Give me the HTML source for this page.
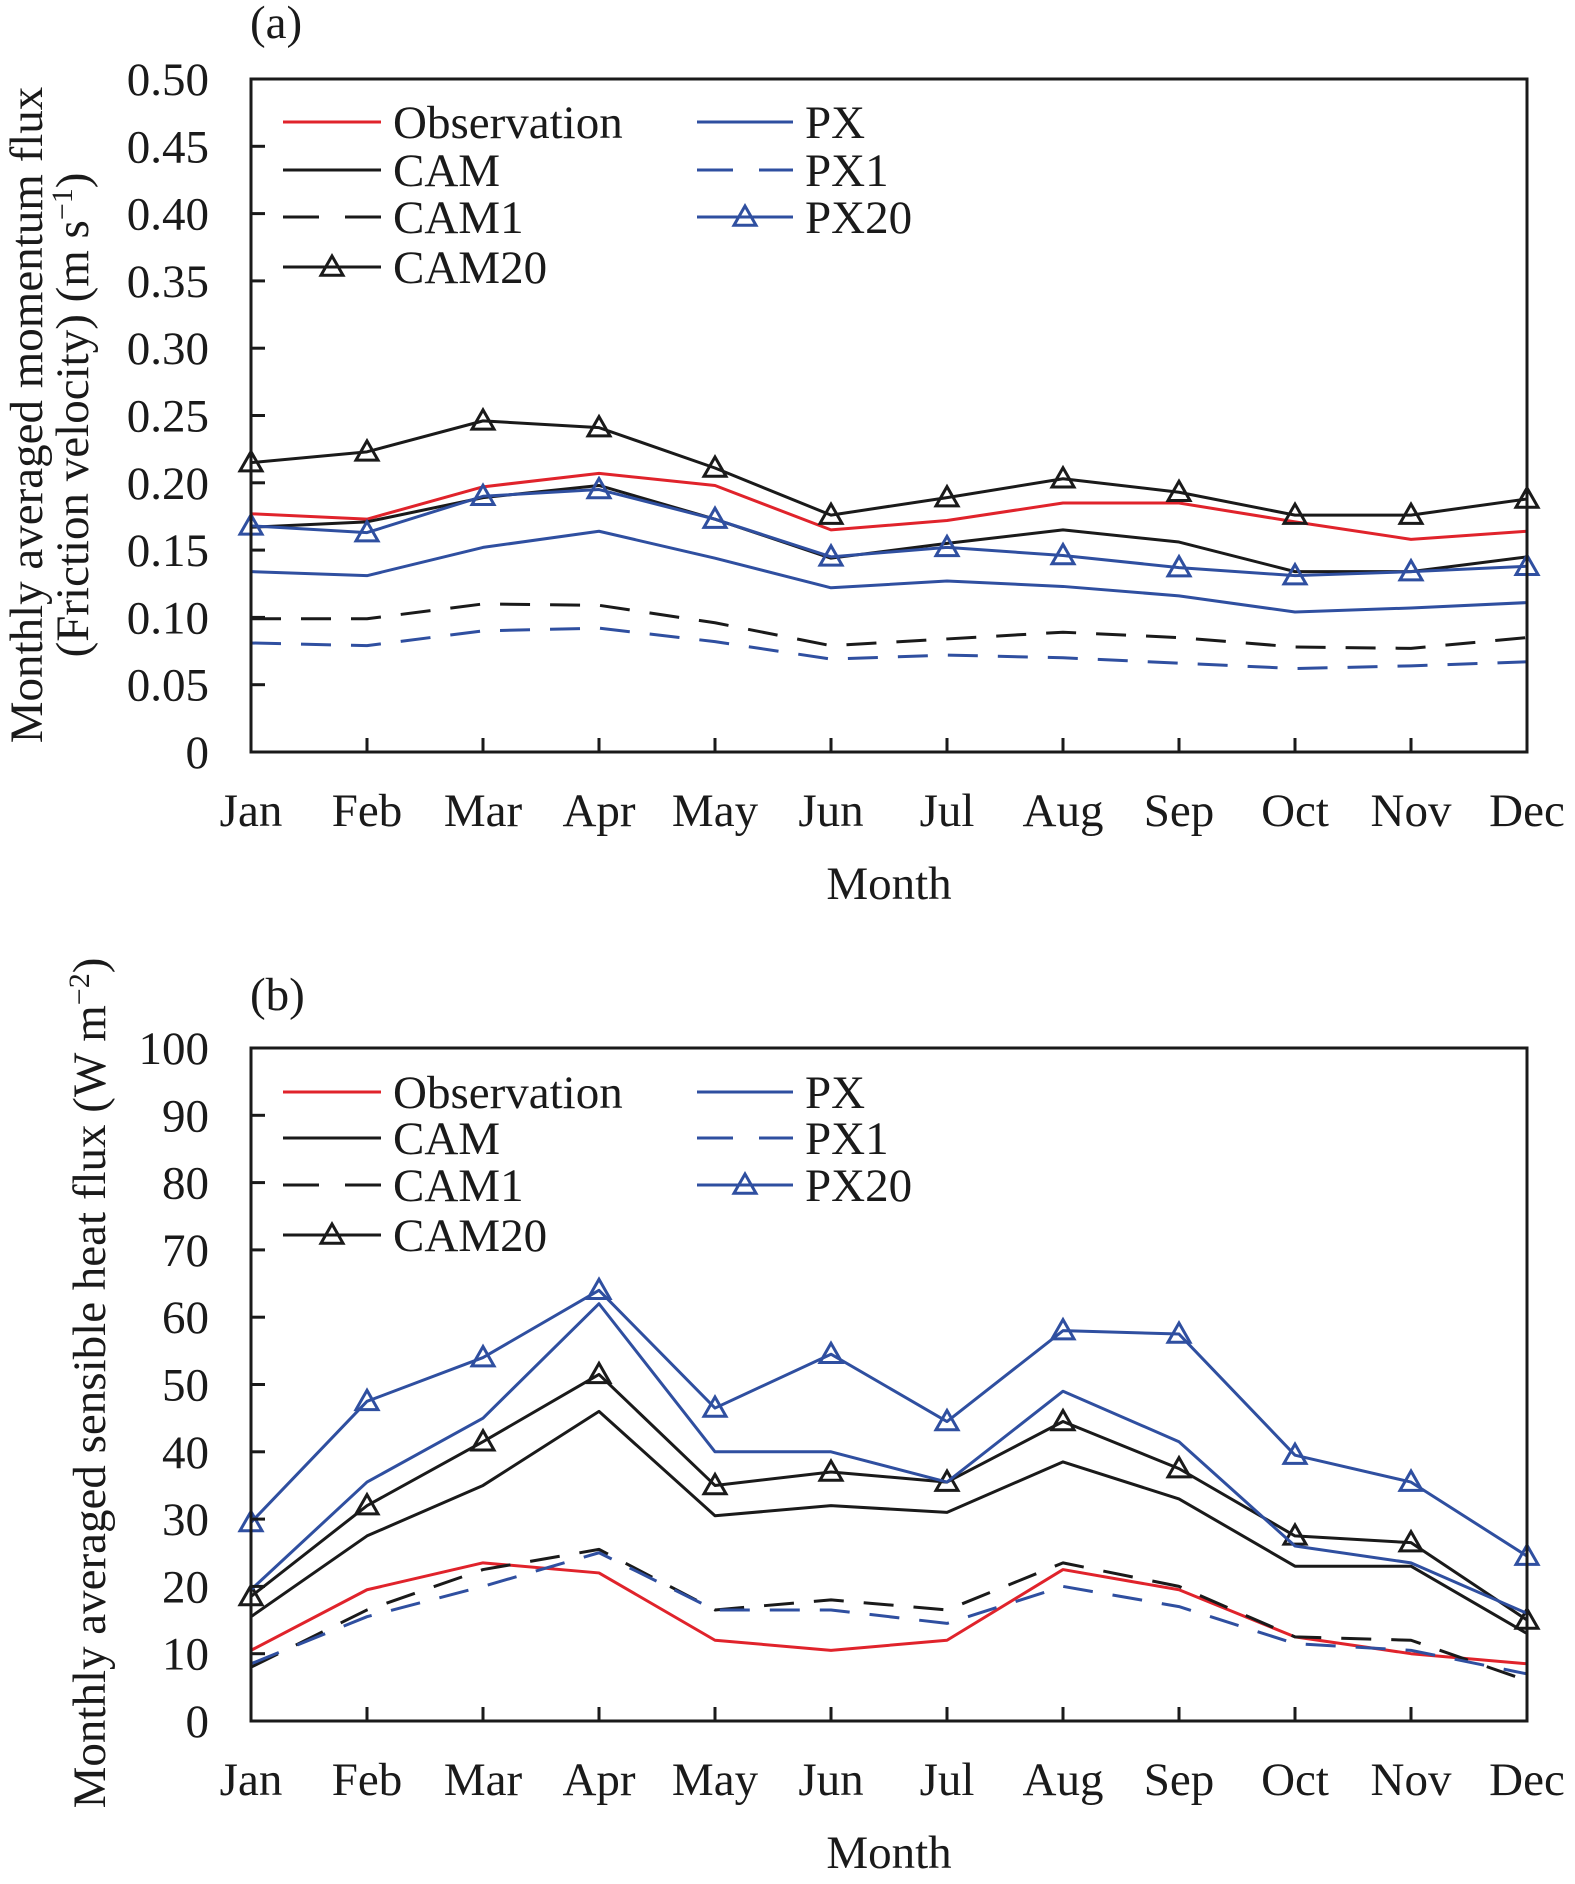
<!DOCTYPE html>
<html><head><meta charset="utf-8"><style>
html,body{margin:0;padding:0;background:#fff;}
svg{display:block;font-family:"Liberation Serif",serif;}
</style></head><body>
<svg id="fig" width="1575" height="1884" viewBox="0 0 1575 1884" xmlns="http://www.w3.org/2000/svg"></svg>
<script>
const months=["Jan","Feb","Mar","Apr","May","Jun","Jul","Aug","Sep","Oct","Nov","Dec"];
const seriesNames=["Observation","CAM","CAM1","CAM20","PX","PX1","PX20"];
// Panel (a) friction velocity
const aObs=[.177,.173,.197,.207,.198,.165,.172,.185,.185,.171,.158,.164];
const aCAM=[.167,.171,.189,.198,.173,.144,.155,.165,.156,.134,.134,.145];
const aCAM1=[.099,.099,.110,.109,.096,.079,.084,.089,.085,.078,.077,.085];
const aCAM20=[.215,.223,.246,.241,.211,.176,.189,.203,.193,.176,.176,.188];
const aPX=[.134,.131,.152,.164,.144,.122,.127,.123,.116,.104,.107,.111];
const aPX1=[.081,.079,.090,.092,.082,.069,.072,.070,.066,.062,.064,.067];
const aPX20=[.168,.163,.190,.195,.173,.145,.152,.146,.137,.131,.134,.138];
const aTicks=["0","0.05","0.10","0.15","0.20","0.25","0.30","0.35","0.40","0.45","0.50"];
// Panel (b) sensible heat flux
const bObs=[10.5,19.5,23.5,22,12,10.5,12,22.5,19.5,12.5,10,8.5];
const bCAM=[15.5,27.5,35,46,30.5,32,31,38.5,33,23,23,13];
const bCAM1=[8,16.5,22.5,25.5,16.5,18,16.5,23.5,20,12.5,12,6];
const bCAM20=[18.5,32,41.5,51.5,35,37,35.5,44.5,37.5,27.5,26.5,15];
const bPX=[19.5,35.5,45,62,40,40,35.5,49,41.5,26,23.5,16];
const bPX1=[8.5,15.5,20,25,16.5,16.5,14.5,20,17,11.5,10.5,7];
const bPX20=[29.5,47.5,54,64,46.5,54.5,44.5,58,57.5,39.5,35.5,24.5];
const bTicks=["0","10","20","30","40","50","60","70","80","90","100"];

const NS="http://www.w3.org/2000/svg";
const svg=document.getElementById('fig');
function mk(tag,attrs,parent){const e=document.createElementNS(NS,tag);for(const k in attrs)e.setAttribute(k,attrs[k]);(parent||svg).appendChild(e);return e;}
const RED="#e0232b",BLUE="#2f4fa0",BLK="#1a1a1a";
const styles={
 "Observation":{c:RED,d:null,m:false},
 "CAM":{c:BLK,d:null,m:false},
 "CAM1":{c:BLK,d:"30 20",m:false},
 "CAM20":{c:BLK,d:null,m:true},
 "PX":{c:BLUE,d:null,m:false},
 "PX1":{c:BLUE,d:"30 20",m:false},
 "PX20":{c:BLUE,d:null,m:true}
};
function tri(g,x,y,c){const s=11;const p=mk('polygon',{points:`${x},${y-s} ${x-s},${y+s*0.75} ${x+s},${y+s*0.75}`,fill:'none',stroke:c,'stroke-width':3},g);}

function panel(o){
 const L=251,R=1527,T=o.top,B=o.top+673;
 const g=mk('g',{});
 
 
 const xs=i=>L+i*(R-L)/11;
 const ys=v=>B-(v/o.max)*(B-T);
 // series
 const order=["Observation","CAM","CAM1","CAM20","PX","PX1","PX20"];
 const sg=mk('g',{},g);
 
 
 order.forEach((n,si)=>{
  const st=styles[n];const vals=o.data[si];
  const pts=vals.map((v,i)=>xs(i)+","+ys(v)).join(" ");
  const pl=mk('polyline',{points:pts,fill:'none',stroke:st.c,'stroke-width':3,'stroke-linejoin':'round'},sg);
  if(st.d)pl.setAttribute('stroke-dasharray',st.d);
  
  
  if(st.m)vals.forEach((v,i)=>tri(sg,xs(i),ys(v),st.c));
 });
 // frame
 const fr=mk('rect',{x:L,y:T,width:R-L,height:B-T,fill:'none',stroke:BLK,'stroke-width':3},g);
 
 
 // y ticks
 o.ticks.forEach((t,i)=>{
  const y=B-i*(B-T)/10;
  mk('line',{x1:L,x2:L+14,y1:y,y2:y,stroke:BLK,'stroke-width':3},g);
  const tx=mk('text',{x:209,y:y+16,'text-anchor':'end','font-size':47,fill:BLK},g);
  tx.textContent=t;
  
  
 });
 months.forEach((m,i)=>{
  const x=xs(i);
  mk('line',{x1:x,x2:x,y1:B,y2:B-14,stroke:BLK,'stroke-width':3},g);
  const tx=mk('text',{x:x,y:B+74,'text-anchor':'middle','font-size':47,fill:BLK},g);
  tx.textContent=m;
  
  
 });
 const xt=mk('text',{x:889,y:B+147,'text-anchor':'middle','font-size':47,fill:BLK},g);
 xt.textContent="Month";
 
 
 const pl=mk('text',{x:250,y:o.labelY,'font-size':47,fill:BLK},g);
 pl.textContent=o.label;
 
 
 // legend
 const lg=mk('g',{},g);
 
 
 const cols=[["Observation","CAM","CAM1","CAM20"],["PX","PX1","PX20"]];
 const colX=[[283,381,393],[697,793,805]];
 cols.forEach((col,ci)=>col.forEach((n,ri)=>{
  const y=o.legY[ri];const st=styles[n];const [x1,x2,tx]=colX[ci];
  const e=mk('g',{},lg);
  
  
  const ln=mk('line',{x1:x1,x2:x2,y1:y,y2:y,stroke:st.c,'stroke-width':3},e);
  if(st.d)ln.setAttribute('stroke-dasharray',"36 26");
  if(st.m)tri(e,(x1+x2)/2,y,st.c);
  const t=mk('text',{x:tx,y:y+16,'font-size':47,fill:BLK},e);
  t.textContent=n;
 }));
 // y title
 o.ytitle.forEach((line,li)=>{
  const t=mk('text',{x:0,y:0,'text-anchor':'middle','font-size':47,fill:BLK,transform:`translate(${line.x},${o.ytY}) rotate(-90)`},g);
  t.innerHTML=line.html;
  
  
 });
}
panel({name:'panel-a-momentum-flux',top:79,max:0.5,ticks:aTicks,
 data:[aObs,aCAM,aCAM1,aCAM20,aPX,aPX1,aPX20],label:"(a)",labelY:38,
 legY:[122,170,217,267],ytY:415,
 ytitle:[{x:42,html:"Monthly averaged momentum flux"},{x:88,html:'(Friction velocity) (m s<tspan dy="-16" font-size="30">−1</tspan><tspan dy="16">)</tspan>'}]});
panel({name:'panel-b-sensible-heat-flux',top:1048,max:100,ticks:bTicks,
 data:[bObs,bCAM,bCAM1,bCAM20,bPX,bPX1,bPX20],label:"(b)",labelY:1010,
 legY:[1092,1138,1185,1235],ytY:1383,
 ytitle:[{x:105,html:'Monthly averaged sensible heat flux (W m<tspan dy="-16" font-size="30">−2</tspan><tspan dy="16">)</tspan>'}]});
</script>
</body></html>
